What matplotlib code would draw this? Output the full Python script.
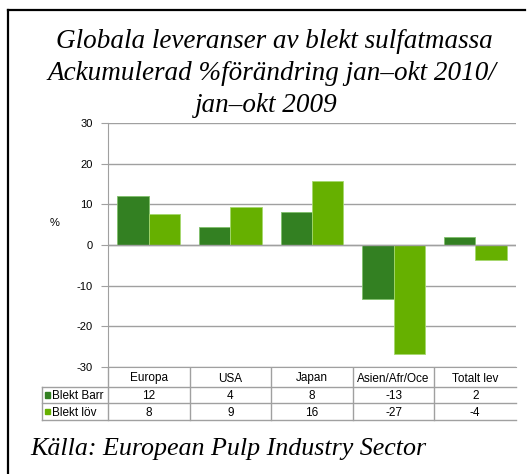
import matplotlib
matplotlib.use("Agg")
import matplotlib.pyplot as plt

# values
categories = ["Europa", "USA", "Japan", "Asien/Afr/Oce", "Totalt lev"]
series_names = ["Blekt Barr", "Blekt löv"]
barr = [12.1, 4.4, 8.2, -13.3, 2.0]
lov = [7.6, 9.3, 15.7, -26.8, -3.8]
barr_table = ["12", "4", "8", "-13", "2"]
lov_table = ["8", "9", "16", "-27", "-4"]
yticks = [-30, -20, -10, 0, 10, 20, 30]

title_lines = ["Globala leveranser av blekt sulfatmassa",
               "Ackumulerad %förändring jan\u2013okt 2010/",
               "jan\u2013okt 2009"]
source = "Källa: European Pulp Industry Sector"

C_BARR = "#338022"
C_LOV = "#66b000"
GRID = "#a0a0a0"

W, H = 530, 474
fig = plt.figure(figsize=(W / 100, H / 100), dpi=100)

# pixel-space overlay for frame, titles and the data table
bg = fig.add_axes([0, 0, 1, 1])
bg.set_xlim(0, W)
bg.set_ylim(H, 0)
bg.axis("off")

serif = ["Liberation Serif", "DejaVu Serif"]
sans = ["Liberation Sans", "DejaVu Sans"]

bg.plot([8, 8], [10, H], color="black", lw=1.6, solid_capstyle="projecting")
bg.plot([8, 525], [10, 10], color="black", lw=1.6, solid_capstyle="projecting")

title_x = [274, 272, 266]
for i, line in enumerate(title_lines):
    bg.text(title_x[i], 41 + 32 * i, line, ha="center", va="center",
            fontsize=19.5, style="italic", family=serif)
bg.text(30, 449, source, ha="left", va="center", fontsize=18.7,
        style="italic", family=serif)

# plot area
x0, x1, ytop, ybot = 108, 516, 123, 367
ax = fig.add_axes([x0 / W, 1 - ybot / H, (x1 - x0) / W, (ybot - ytop) / H])
n = len(categories)
xs = list(range(n))
bw = 0.385
ax.bar([x - bw / 2 for x in xs], barr, width=bw, color=C_BARR,
       edgecolor="#7fbf6a", linewidth=0.6, zorder=3)
ax.bar([x + bw / 2 for x in xs], lov, width=bw, color=C_LOV,
       edgecolor="#a5d86e", linewidth=0.6, zorder=3)
ax.set_xlim(-0.5, n - 0.5)
ax.set_ylim(-30, 30)
ax.set_yticks(yticks)
ax.set_yticklabels([str(t) for t in yticks], fontsize=8, family=sans)
ax.yaxis.grid(True, color=GRID, lw=1.0, zorder=0)
ax.set_xticks([])
for s in ["top", "right"]:
    ax.spines[s].set_visible(False)
ax.spines["left"].set_color(GRID)
ax.spines["bottom"].set_color(GRID)
ax.tick_params(axis="y", length=5, color=GRID, pad=6)
ax.axhline(0, color=GRID, lw=1.0, zorder=4)
fig.text(55 / W, 1 - 223 / H, "%", fontsize=8, family=sans,
         ha="center", va="center")

# data table below the plot
colw = (x1 - x0) / n
lx = 42
rows_y = [368, 387, 403, 420]
lc = GRID
fs = 8.5
bg.plot([lx, x1], [rows_y[1], rows_y[1]], color=lc, lw=1.0)
bg.plot([lx, x1], [rows_y[2], rows_y[2]], color=lc, lw=1.0)
bg.plot([lx, x1], [rows_y[3], rows_y[3]], color=lc, lw=1.0)
bg.plot([lx, lx], [rows_y[1], rows_y[3]], color=lc, lw=1.0)
for k in range(n):
    xb = x0 + k * colw
    bg.plot([xb, xb], [rows_y[0], rows_y[3]], color=lc, lw=1.0)
for k, cat in enumerate(categories):
    xc = x0 + (k + 0.5) * colw
    bg.text(xc, (rows_y[0] + rows_y[1]) / 2 + 1, cat, ha="center",
            va="center", fontsize=fs, family=sans)
    bg.text(xc, (rows_y[1] + rows_y[2]) / 2 + 1, barr_table[k],
            ha="center", va="center", fontsize=fs, family=sans)
    bg.text(xc, (rows_y[2] + rows_y[3]) / 2 + 1, lov_table[k],
            ha="center", va="center", fontsize=fs, family=sans)
for r, (name, col) in enumerate(zip(series_names, [C_BARR, C_LOV])):
    yc = (rows_y[r + 1] + rows_y[r + 2]) / 2
    bg.add_patch(plt.Rectangle((44.5, yc - 3), 5.5, 5.5, color=col))
    bg.text(52, yc + 1, name, ha="left", va="center", fontsize=fs,
            family=sans)

fig.savefig("out.png", dpi=100)
